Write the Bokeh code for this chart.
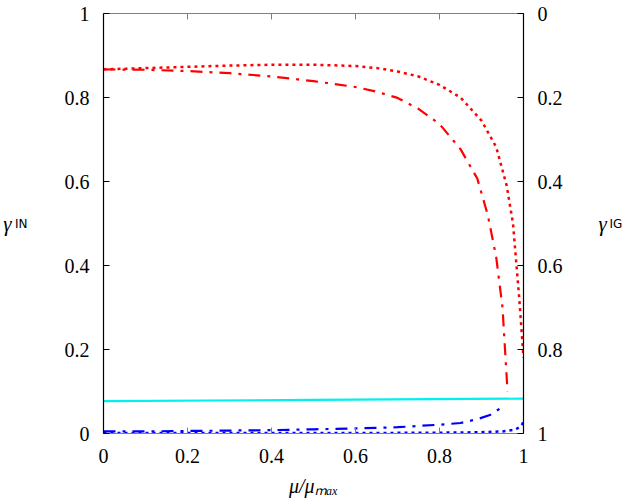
from bokeh.plotting import figure
from bokeh.models import (Range1d, LinearAxis, FixedTicker, CustomJSTickFormatter)
from bokeh.embed import file_html
from bokeh.resources import INLINE

# ---- data ----
ticks = [0, 0.2, 0.4, 0.6, 0.8, 1.0]

red_dot_x = [0, 0.1, 0.2, 0.3, 0.4, 0.5, 0.6, 0.66, 0.7, 0.75, 0.8, 0.85, 0.9, 0.935, 0.96, 0.975, 0.99, 1.0]
red_dot_y = [0.867, 0.870, 0.873, 0.876, 0.878, 0.878, 0.875, 0.869, 0.862, 0.850, 0.830, 0.800, 0.745, 0.682, 0.590, 0.500, 0.320, 0.180]

red_dd_x = [0, 0.1, 0.2, 0.3, 0.4, 0.5, 0.6, 0.65, 0.7, 0.75, 0.8, 0.85, 0.89, 0.915, 0.935, 0.95, 0.962]
red_dd_y = [0.867, 0.866, 0.863, 0.858, 0.850, 0.839, 0.825, 0.814, 0.799, 0.773, 0.737, 0.677, 0.607, 0.520, 0.420, 0.300, 0.100]

cyan_x = [0, 0.5, 1.0]
cyan_y = [0.077, 0.080, 0.083]

blue_dd_x = [0, 0.1, 0.2, 0.3, 0.4, 0.5, 0.6, 0.7, 0.8, 0.85, 0.89, 0.92, 0.945]
blue_dd_y = [0.005, 0.005, 0.006, 0.007, 0.008, 0.010, 0.012, 0.015, 0.021, 0.025, 0.034, 0.044, 0.060]

blue_dot_x = [0, 0.2, 0.4, 0.6, 0.8, 0.9, 0.95, 0.98, 0.995, 1.0]
blue_dot_y = [0.001, 0.001, 0.001, 0.001, 0.002, 0.003, 0.005, 0.009, 0.018, 0.028]

x_title = "μ/μₘₐₓ"
SERIF = "Liberation Serif"
SANS = "DejaVu Sans"

p = figure(width=625, height=504, output_backend="svg", toolbar_location=None,
           x_range=Range1d(0, 1), y_range=Range1d(0, 1),
           min_border_left=103, min_border_right=102, min_border_top=13, min_border_bottom=71,
           x_axis_location=None, y_axis_location=None)
p.extra_y_ranges = {"ig": Range1d(1, 0)}
p.grid.visible = False
p.outline_line_color = None
p.background_fill_color = "white"
p.border_fill_color = "white"

fmt = CustomJSTickFormatter(code="return tick.toFixed(1).replace(/\\.0$/, '');")

def style(ax, color="#000000"):
    ax.ticker = FixedTicker(ticks=ticks)
    ax.formatter = fmt
    ax.major_tick_in = 6
    ax.major_tick_out = 0
    ax.minor_tick_line_color = None
    ax.axis_line_color = color
    ax.major_tick_line_color = color
    ax.axis_line_width = 1.2
    ax.major_label_text_font = SERIF
    ax.major_label_text_font_size = "20px"
    ax.major_label_text_color = "#000000"
    ax.major_label_standoff = 14

def title_axis(ax, text, font, size, fstyle, standoff):
    ax.axis_label = text
    ax.axis_label_text_font = font
    ax.axis_label_text_font_size = size
    ax.axis_label_text_font_style = fstyle
    ax.axis_label_text_color = "#000000"
    ax.axis_label_standoff = standoff
    ax.axis_label_orientation = "horizontal"

def bare_axis(ax):
    ax.ticker = FixedTicker(ticks=[])
    ax.axis_line_color = None
    ax.major_tick_line_color = None
    ax.minor_tick_line_color = None
    ax.major_tick_in = 0
    ax.major_tick_out = 0
    ax.major_label_standoff = 0

# left: ticks + "IN", then outer axis carrying "γ"
left = LinearAxis()
style(left)
title_axis(left, "IN", SANS, "12px", "normal", 34)
p.add_layout(left, "left")
left2 = LinearAxis()
bare_axis(left2)
title_axis(left2, "γ", SERIF, "21px", "italic", 0)
p.add_layout(left2, "left")

# right: inverted gamma_IG scale
right = LinearAxis(y_range_name="ig")
style(right)
title_axis(right, "γ", SERIF, "21px", "italic", 33)
p.add_layout(right, "right")
right2 = LinearAxis(y_range_name="ig")
bare_axis(right2)
title_axis(right2, "IG", SANS, "12px", "normal", 0)
p.add_layout(right2, "right")

bottom = LinearAxis()
style(bottom, color="#7f7f7f")
bottom.major_label_standoff = 15
bottom.axis_label = x_title
bottom.axis_label_text_font = SERIF
bottom.axis_label_text_font_size = "20px"
bottom.axis_label_text_font_style = "italic"
bottom.axis_label_text_color = "#000000"
bottom.axis_label_standoff = 9
p.add_layout(bottom, "below")

top = LinearAxis()
style(top, color="#7f7f7f")
top.major_label_text_font_size = "1px"
top.major_label_text_color = None
top.major_label_standoff = 0
p.add_layout(top, "above")

# ---- curves ----
p.line(red_dot_x, red_dot_y, line_color="#ff0000", line_width=2.5, line_dash="3 4")
p.line(red_dd_x, red_dd_y, line_color="#ff0000", line_width=2.2, line_dash="12 7 3 7")
p.line(cyan_x, cyan_y, line_color="#00f0f0", line_width=2.2)
p.line(blue_dd_x, blue_dd_y, line_color="#0000ff", line_width=2.2, line_dash="12 7 3 7")
p.line(blue_dot_x, blue_dot_y, line_color="#0000ff", line_width=2.5, line_dash="3 4")

open("out.html", "w").write(file_html(p, INLINE))
